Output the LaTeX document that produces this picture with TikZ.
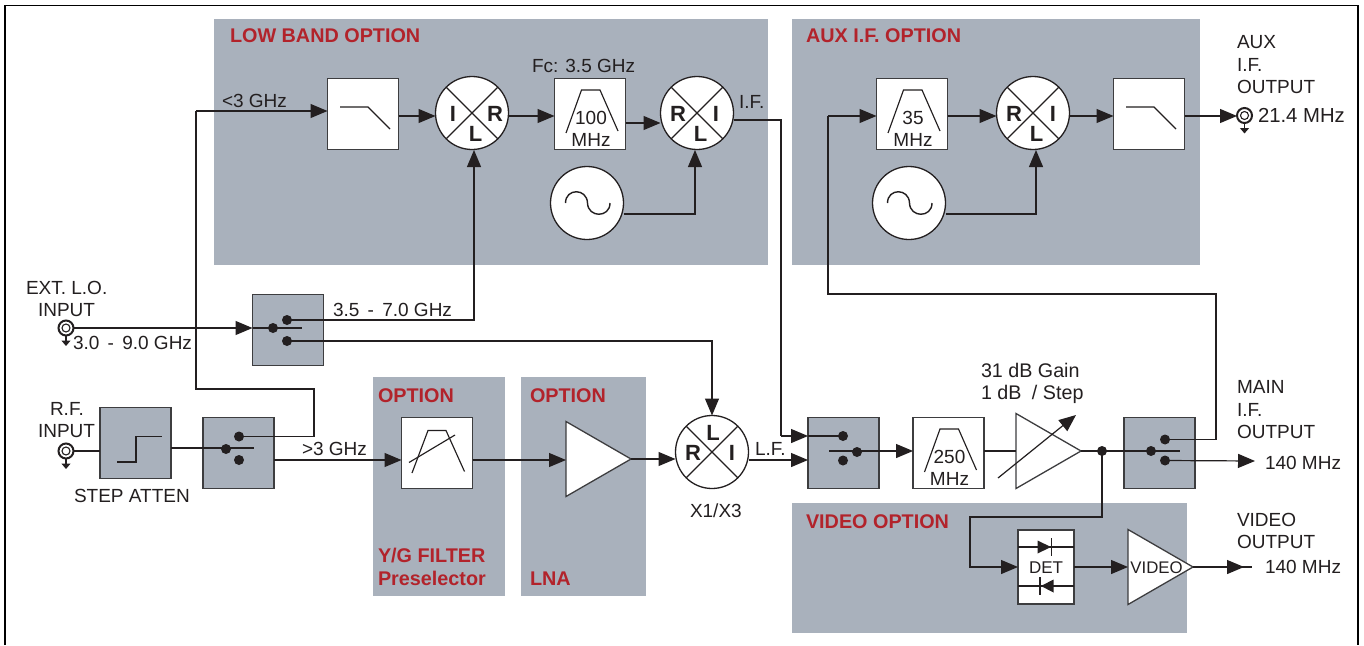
\documentclass[tikz,border=0pt]{standalone}
\usepackage{fontspec}
\setmainfont{Liberation Sans}
\usetikzlibrary{arrows.meta,shapes.geometric}
\definecolor{panelgray}{HTML}{A9B1BC}
\definecolor{optred}{HTML}{B2232B}
\definecolor{inkdark}{HTML}{231F20}
\definecolor{edgegray}{HTML}{3D3D3F}
\tikzset{
  wire/.style={draw=inkdark,line width=1.2pt},
  arr/.style={wire,-{Triangle[length=17pt,width=14pt]}},
  panel/.style={fill=panelgray,draw=none,inner sep=0pt,outer sep=0pt},
  whitebox/.style={draw=edgegray,fill=white,line width=1.4pt,minimum size=71pt,inner sep=0pt,outer sep=0pt},
  graybox/.style={draw=edgegray,fill=panelgray,line width=1.4pt,minimum size=71pt,inner sep=0pt,outer sep=0pt},
  disc/.style={circle,draw=inkdark,fill=white,line width=1.3pt,minimum size=73pt,inner sep=0pt,outer sep=0pt},
  dotn/.style={circle,fill=inkdark,minimum size=10pt,inner sep=0pt,outer sep=0pt},
  thin shape/.style={draw=inkdark,line width=1.15pt},
  tri/.style={isosceles triangle,isosceles triangle stretches,draw=edgegray,fill=white,line width=1.3pt,inner sep=0pt,outer sep=0pt,anchor=apex},
  lbl/.style={inner sep=0pt,outer sep=0pt,anchor=base west,text=inkdark,font=\fontsize{19}{22}\selectfont},
  lblc/.style={lbl,anchor=base},
  ttl/.style={inner sep=0pt,outer sep=0pt,anchor=base west,text=optred,font=\fontsize{19.8}{23}\selectfont\bfseries},
  mixl/.style={inner sep=0pt,outer sep=0pt,text=inkdark,font=\fontsize{22}{24}\selectfont\bfseries},
}
% mixer: name, x, y, left letter, right letter, third letter, its y offset, right x offset, its x offset
\newcommand\mixerdisc[9]{%
  \node[disc] (#1) at (#2,#3) {};
  \draw[thin shape] (#1.45) -- (#1.225) (#1.135) -- (#1.315);
  \node[mixl] (#1-a) at (#2-19,#3+0.5) {#4};
  \node[mixl] (#1-b) at (#2+#8,#3+0.5) {#5};
  \node[mixl] (#1-c) at (#2+#9,#3+#7) {#6};
}
\newcommand\oscdisc[3]{%
  \node[disc] (#1) at (#2,#3) {};
  \begin{scope}[shift={(#2,#3)}]
    \draw[thin shape,line width=1.4pt] (-21.5,0) .. controls (-21.5,-15) and (0,-15) .. (0.5,0) .. controls (1,15) and (23,15) .. (23,0);
  \end{scope}
}
\newcommand\lowpass[3]{%
  \node[whitebox] (#1) at (#2,#3) {};
  \begin{scope}[shift={(#2,#3)}]
    \draw[thin shape] (-23,-7) -- (5,-7) -- (27,15);
  \end{scope}
}
\newcommand\bandpass[4]{%
  \node[whitebox] (#1) at (#2,#3) {};
  \begin{scope}[shift={(#2,#3)}]
    \draw[thin shape] (-24,19) -- (-8.5,-24) -- (10,-24) -- (28,17);
    \node[lblc] (#1-top) at (1,10) {#4};
    \node[lblc] (#1-bot) at (1,32) {MHz};
  \end{scope}
}
% switch: name, box cx, cy; then common dot x,y; upper dot x,y; lower dot x,y given as coordinates
\newcommand\swbox[6]{%
  \node[graybox] (#1) at (#2,#3) {};
  \node[dotn] (#1-c) at (#4) {};
  \node[dotn] (#1-u) at (#5) {};
  \node[dotn] (#1-l) at (#6) {};
}
\newcommand\jackring[3]{%
  \node[circle,draw=inkdark,fill=white,line width=2pt,minimum size=15pt,inner sep=0pt,outer sep=0pt] (#1) at (#2,#3) {};
  \node[circle,draw=inkdark,line width=1.1pt,minimum size=8pt,inner sep=0pt,outer sep=0pt] (#1-i) at (#2,#3) {};
  \coordinate (#1-e) at (#2,#3+18);
  \draw[wire,line width=1.1pt,-{Triangle[length=5.5pt,width=9pt]}] (#1.south) -- (#1-e);
}
\begin{document}
\begin{tikzpicture}[x=1pt,y=-1pt]
\useasboundingbox (0,0) rectangle (1364,645);
\fill[white] (0,0) rectangle (1364,645);
% frame
\draw[draw=black,line width=1.7pt] (5,645) -- (5,5.5) -- (1358,5.5) -- (1358,645);
% panels
\node[panel,minimum width=554pt,minimum height=246pt] (plow) at (491,142) {};
\node[panel,minimum width=408pt,minimum height=246pt] (paux) at (996,142) {};
\node[panel,minimum width=132pt,minimum height=219pt] (pyg) at (439,486.5) {};
\node[panel,minimum width=125pt,minimum height=219pt] (plna) at (583.5,486.5) {};
\node[panel,minimum width=395pt,minimum height=130pt] (pvid) at (989.5,568) {};
% titles
\node[ttl] (t1) at (230,42) {LOW BAND OPTION};
\node[ttl] (t2) at (806,42.5) {AUX I.F. OPTION};
\node[ttl] (t3) at (378,402) {OPTION};
\node[ttl] (t4) at (530,402) {OPTION};
\node[ttl] (t5) at (378,562) {Y/G FILTER};
\node[ttl] (t6) at (378,585) {Preselector};
\node[ttl] (t7) at (530,585) {LNA};
\node[ttl] (t8) at (806,528) {VIDEO OPTION};
% low band
\lowpass{lp1}{363}{114}
\mixerdisc{m1}{472}{113}{I}{R}{L}{21}{23}{3.5}
\bandpass{bp1}{590}{114}{100}
\mixerdisc{m2}{697}{113}{R}{I}{L}{21}{19}{3.5}
\oscdisc{o1}{587}{203}
% aux
\bandpass{bp2}{912}{114}{35}
\mixerdisc{m4}{1033}{113}{R}{I}{L}{21}{20}{3.5}
\oscdisc{o2}{909}{203}
\lowpass{lp2}{1149}{114}
% switches and step attenuator
\swbox{s1}{288}{330}{273,328}{287,320}{287,341}
\swbox{s2}{238.5}{453}{226,449}{239,436.5}{239,460}
\swbox{s3}{843.5}{453}{857,452}{843,436}{843,460.5}
\swbox{s4}{1159.5}{453}{1151,451}{1165,439.5}{1165,460.5}
\node[graybox] (att) at (135.5,443) {};
\draw[thin shape] (117,462) -- (136,462) -- (136,436.5) -- (162,436.5);
% y/g filter
\node[whitebox] (yg) at (437,453) {};
\draw[thin shape] (412,473) -- (428,430.5) -- (446,430.5) -- (464.5,471.5);
\draw[thin shape] (409,462.5) -- (455,435);
% amps
\node[tri,minimum width=75pt,minimum height=65pt] (lna) at (631,459) {};
\mixerdisc{m3}{712}{452}{R}{I}{L}{-19}{20}{1}
\bandpass{bp3}{948.5}{453}{250}
\node[tri,minimum width=75pt,minimum height=65pt] (amp) at (1081,451) {};
\node[dotn] (jn) at (1102,451) {};
% detector
\node[draw=edgegray,fill=white,line width=1.4pt,minimum width=56pt,minimum height=74pt,inner sep=0pt,outer sep=0pt] (det) at (1046,567) {};
\draw[thin shape] (det.west |- 0,547) -- (det.east |- 0,547);
\draw[thin shape] (det.west |- 0,586) -- (det.east |- 0,586);
\fill[inkdark] (1037.5,540.5) -- (1051,547) -- (1037.5,553.5) -- cycle;
\draw[thin shape] (1051.7,538) -- (1051.7,556);
\fill[inkdark] (1053.5,579.5) -- (1041,586) -- (1053.5,592.5) -- cycle;
\draw[thin shape] (1040,577) -- (1040,595);
\node[lblc,font=\fontsize{17}{22}\selectfont] (detl) at (1046,573.5) {DET};
\node[tri,minimum width=75pt,minimum height=65pt] (vamp) at (1193,567) {};
\node[lblc,font=\fontsize{16.8}{22}\selectfont] (vampl) at (1156.5,573.5) {VIDEO};
% jacks
\jackring{j1}{66}{328}
\jackring{j2}{66}{451}
\jackring{j3}{1244.5}{115.5}
% free ends
\coordinate (e1) at (1255,461);
\coordinate (e2) at (1252,567);
\coordinate (e2tip) at (1244,567);
\coordinate (g1) at (998,478);
\coordinate (g2) at (1076,415);
% connectors
\draw[arr] (196,111) -- (lp1.west |- 0,111);
\draw[wire] (s2-u.center) -| (314,389) -- (196,389) -- (196,111);
\draw[arr] (lp1.east |- 0,116) -- (m1.west |- 0,116);
\draw[arr] (m1.east |- 0,116) -- (bp1.west |- 0,116);
\draw[arr] (bp1.east |- 0,123) -- (m2.west |- 0,123);
\draw[arr] (o1.east |- 0,214) -| (695,150);
\draw[arr] (s1-u.center) -| (474,150);
\draw[wire] (m2.east |- 0,120) -- (781,120) -- (781,436);
\draw[arr] (781,436) -- (s3.west |- s3-u);
\draw[wire] (s3.west |- s3-u) -- (s3-u.center);
\draw[arr] (bp2.east |- 0,116) -- (m4.west |- 0,116);
\draw[arr] (m4.east |- 0,116) -- (lp2.west |- 0,116);
\draw[arr] (lp2.east |- 0,116) -- (j3.west |- 0,116);
\draw[arr] (o2.east |- 0,214) -| (1036,150);
\draw[wire] (s4-u.center) -| (1216,294) -- (828,294) -- (828,116);
\draw[arr] (828,116) -- (bp2.west |- 0,116);
\draw[arr] (j1.east) -- (s1.west |- j1);
\draw[wire] (s1.west |- j1) -- (302,328);
\draw[arr] (s1-l.center) -| (m3.north);
\draw[wire] (j2.east) -- (att.west |- j2);
\draw[wire] (att.east |- 0,448) -- (254,448);
\draw[arr] (s2.east |- s2-l) -- (yg.west |- s2-l);
\draw[arr] (yg.east |- s2-l) -- (lna.lower side |- s2-l);
\draw[arr] (lna.apex) -- (m3.west |- lna.apex);
\draw[arr] (m3.east |- 0,460) -- (s3.west |- 0,460);
\draw[arr] (829,451) -- (bp3.west |- 0,451);
\draw[wire] (bp3.east |- 0,451) -- (amp.lower side |- 0,451);
\draw[wire] (amp.apex) -- (1180,451);
\draw[arr] (s4-l.center) -- (e1);
\draw[arr] (jn.center) |- (970,517) -- (970,567) -- (det.west);
\draw[arr] (det.east) -- (vamp.lower side |- det.east);
\draw[wire] (vamp.apex) -- (e2);
\draw[arr] (vamp.apex) -- (e2tip);
\draw[arr] (g1) -- (g2);
% labels
\node[lbl] (a1) at (1237,48) {AUX};
\node[lbl] (a2) at (1237,71) {I.F.};
\node[lbl] (a3) at (1237,93) {OUTPUT};
\node[lbl,font=\fontsize{20.3}{22}\selectfont] (a4) at (1258,122.5) {21.4 MHz};
\node[lbl] (b1) at (532,72.5) {Fc: 3.5 GHz};
\node[lbl] (b2) at (222,107.5) {<3 GHz};
\node[lbl] (b3) at (739,108.5) {I.F.};
\node[lbl] (c1) at (26,294.5) {EXT. L.O.};
\node[lbl] (c2) at (38,316.5) {INPUT};
\node[lbl] (c3) at (73,349.5) {3.0\hspace{3pt} - \hspace{3pt}9.0 GHz};
\node[lbl] (c4) at (333,316.5) {3.5\hspace{3pt} - \hspace{3pt}7.0 GHz};
\node[lbl] (d1) at (50,415.5) {R.F.};
\node[lbl] (d2) at (38,437.5) {INPUT};
\node[lbl] (d3) at (74,502.5) {STEP ATTEN};
\node[lbl] (d4) at (302,455.5) {>3 GHz};
\node[lbl] (e3) at (755,455.5) {L.F.};
\node[lbl] (e4) at (690,517.5) {X1/X3};
\node[lbl,font=\fontsize{19.7}{22}\selectfont] (f1) at (981,377) {31 dB Gain};
\node[lbl,font=\fontsize{19.7}{22}\selectfont] (f2) at (981,399.5) {1 dB\hspace{5pt} / Step};
\node[lbl] (g3) at (1237,393.5) {MAIN};
\node[lbl] (g4) at (1237,416.5) {I.F.};
\node[lbl] (g5) at (1237,438.5) {OUTPUT};
\node[lbl] (g6) at (1265,469.5) {140 MHz};
\node[lbl] (h1) at (1237,526.5) {VIDEO};
\node[lbl] (h2) at (1237,548.5) {OUTPUT};
\node[lbl] (h3) at (1265,573.5) {140 MHz};
\end{tikzpicture}
\end{document}
